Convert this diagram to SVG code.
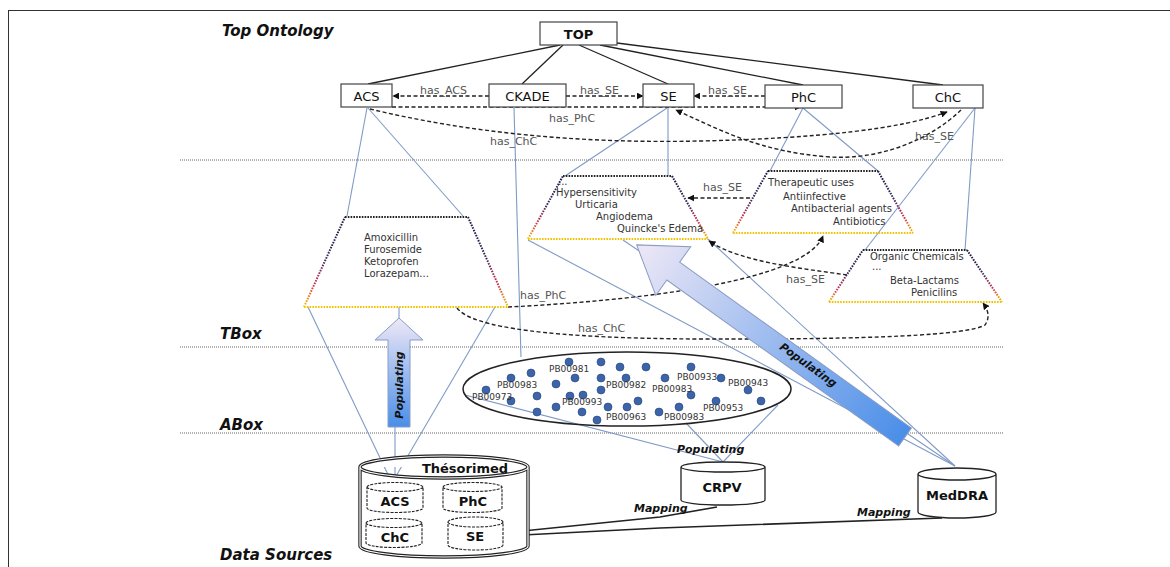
<svg xmlns="http://www.w3.org/2000/svg" width="1170" height="567" viewBox="0 0 1170 567">
<style>
.layer{font-family:"DejaVu Sans",sans-serif;font-weight:bold;font-style:italic;font-size:15px;fill:#111}
.node rect{fill:#fff;stroke:#444;stroke-width:1.2}
.ntxt{font-family:"DejaVu Sans",sans-serif;font-size:13px;fill:#111;text-anchor:middle}
.rel{font-family:"DejaVu Sans",sans-serif;font-size:11px;fill:#555}
.dash{fill:none;stroke:#222;stroke-width:1.4;stroke-dasharray:4 2.5}
.blue{stroke:#7f9bc6;stroke-width:1.1;fill:none}
.sep{stroke:#666;stroke-width:1;stroke-dasharray:1 1}
.ttop{fill:none;stroke:#222;stroke-width:2;stroke-dasharray:1.6 1.2}
.tbot{fill:none;stroke:#f2c400;stroke-width:2;stroke-dasharray:1.6 1.2}
.tside{fill:none;stroke:url(#sideGrad);stroke-width:2;stroke-dasharray:1.6 1.2}
.ttxt{font-family:"DejaVu Sans",sans-serif;font-size:10px;fill:#333}
.pb{font-family:"DejaVu Sans",sans-serif;font-size:9px;fill:#333}
.dot{fill:#3d64a8;stroke:#24457e;stroke-width:0.6}
.db{font-family:"DejaVu Sans",sans-serif;font-weight:bold;font-size:13px;fill:#111;text-anchor:middle}
.ital{font-family:"DejaVu Sans",sans-serif;font-weight:bold;font-style:italic;font-size:11px;fill:#111}
.cyl{fill:#fff;stroke:#222;stroke-width:1.3}
.icyl{fill:#fff;stroke:#222;stroke-width:1.1;stroke-dasharray:3 1.2}
.map{stroke:#222;stroke-width:1.6;fill:none}
</style>
<defs>
<linearGradient id="sideGrad" x1="0" y1="0" x2="0" y2="1">
<stop offset="0" stop-color="#1a1a40"/>
<stop offset="0.45" stop-color="#3a2a60"/>
<stop offset="0.75" stop-color="#d03050"/>
<stop offset="1" stop-color="#f5c400"/>
</linearGradient>
<linearGradient id="vGrad" x1="0" y1="0" x2="0" y2="1">
<stop offset="0" stop-color="#eee8f6"/>
<stop offset="1" stop-color="#4a8ee8"/>
</linearGradient>
<linearGradient id="dGrad" x1="0" y1="0" x2="1" y2="0">
<stop offset="0" stop-color="#4a8ee8"/>
<stop offset="1" stop-color="#eee8f6"/>
</linearGradient>
<marker id="arr" viewBox="0 0 10 10" refX="9" refY="5" markerWidth="7" markerHeight="7" orient="auto" markerUnits="userSpaceOnUse">
<path d="M0,0 L10,5 L0,10 Z" fill="#111"/>
</marker>
</defs>
<rect x="8.5" y="10.5" width="1200" height="600" fill="#fff" stroke="#333" stroke-width="1"/>

<g id="layers">
<text class="layer" x="222" y="36">Top Ontology</text>
<text class="layer" x="220" y="339">TBox</text>
<text class="layer" x="220" y="430">ABox</text>
<text class="layer" x="220" y="560">Data Sources</text>
<line class="sep" x1="180" y1="160" x2="1003" y2="160"/>
<line class="sep" x1="180" y1="347" x2="1003" y2="347"/>
<line class="sep" x1="180" y1="433" x2="1003" y2="433"/>
</g>

<g id="connectors">
<g stroke="#222" stroke-width="1.3">
<line x1="560" y1="45" x2="368" y2="84"/>
<line x1="563" y1="45" x2="522" y2="84"/>
<line x1="579" y1="45" x2="668" y2="84"/>
<line x1="600" y1="45" x2="803" y2="85"/>
<line x1="617" y1="43" x2="943" y2="85"/>
</g>
<g class="blue">
<line x1="367" y1="108" x2="347" y2="216"/>
<line x1="368" y1="108" x2="463" y2="216"/>
<line x1="514" y1="108" x2="521" y2="357"/>
<line x1="667" y1="108" x2="565" y2="176"/>
<line x1="668" y1="108" x2="668" y2="176"/>
<line x1="803" y1="108" x2="770" y2="171"/>
<line x1="803" y1="108" x2="878" y2="171"/>
<line x1="975" y1="108" x2="865" y2="250"/>
<line x1="975" y1="108" x2="965" y2="250"/>
<line x1="392" y1="483" x2="308" y2="307"/>
<line x1="392" y1="483" x2="495" y2="307"/>
<line x1="399" y1="307" x2="399" y2="320"/>
<line x1="395" y1="427" x2="395" y2="483"/>
<line x1="528" y1="240" x2="955" y2="466"/>
<line x1="623" y1="240" x2="955" y2="466"/>
<line x1="708" y1="239" x2="955" y2="466"/>
<line x1="723" y1="462" x2="686" y2="423"/>
<line x1="723" y1="462" x2="778" y2="405"/>
<line x1="465" y1="395" x2="723" y2="462"/>
</g>
<g class="dash">
<path d="M489,96 L393,96" marker-end="url(#arr)"/>
<path d="M566,96 L643,96" marker-end="url(#arr)"/>
<path d="M765,96 L694,96" marker-end="url(#arr)"/>
<path d="M392,107 L801,107" marker-end="url(#arr)"/>
<path d="M370,109 Q520,145 700,141 Q880,137 947,112" marker-end="url(#arr)"/>
<path d="M961,110 C930,140 880,160 830,157 C760,152 720,130 676,110" marker-end="url(#arr)"/>
<path d="M750,198 L688,198" marker-end="url(#arr)"/>
<path d="M508,307 C650,300 805,280 823,236" marker-end="url(#arr)"/>
<path d="M457,308 Q480,338 700,339 Q960,340 985,325 Q992,315 983,303" marker-end="url(#arr)"/>
<path d="M847,275 C800,268 740,262 709,241" marker-end="url(#arr)"/>
</g>
<path class="map" d="M503,533 L660,517 L717,507"/>
<path class="map" d="M503,536 L660,528 L942,518"/>
<text class="rel" x="420" y="94">has_ACS</text>
<text class="rel" x="580" y="94">has_SE</text>
<text class="rel" x="708" y="94">has_SE</text>
<text class="rel" x="549" y="122">has_PhC</text>
<text class="rel" x="490" y="145">has_ChC</text>
<text class="rel" x="915" y="140">has_SE</text>
<text class="rel" x="703" y="191">has_SE</text>
<text class="rel" x="520" y="299">has_PhC</text>
<text class="rel" x="578" y="332">has_ChC</text>
<text class="rel" x="786" y="283">has_SE</text>
<text class="ital" x="677" y="453">Populating</text>
<text class="ital" x="634" y="512">Mapping</text>
<text class="ital" x="857" y="516">Mapping</text>
</g>

<g id="node-TOP" class="node"><rect x="540" y="22" width="77" height="23"/><text class="ntxt" x="578.5" y="38.5" font-weight="bold">TOP</text></g>
<g id="node-ACS" class="node"><rect x="341" y="84" width="51" height="23"/><text class="ntxt" x="366.5" y="100.5">ACS</text></g>
<g id="node-CKADE" class="node"><rect x="489" y="84" width="77" height="23"/><text class="ntxt" x="527.5" y="100.5">CKADE</text></g>
<g id="node-SE" class="node"><rect x="643" y="84" width="51" height="23"/><text class="ntxt" x="668.5" y="100.5">SE</text></g>
<g id="node-PhC" class="node"><rect x="765" y="85" width="77" height="23"/><text class="ntxt" x="803.5" y="101.5">PhC</text></g>
<g id="node-ChC" class="node"><rect x="913" y="85" width="70" height="23"/><text class="ntxt" x="948" y="101.5">ChC</text></g>

<g id="tbox-drugs">
<line class="ttop" x1="345" y1="217" x2="468" y2="217"/>
<path class="tside" d="M304,307 L345,217 M468,217 L508,307"/>
<line class="tbot" x1="304" y1="307" x2="508" y2="307"/>
<text class="ttxt" x="364" y="241">Amoxicillin</text>
<text class="ttxt" x="364" y="253">Furosemide</text>
<text class="ttxt" x="364" y="265">Ketoprofen</text>
<text class="ttxt" x="364" y="277">Lorazepam...</text>
</g>
<g id="tbox-se">
<line class="ttop" x1="563" y1="176" x2="672" y2="176"/>
<path class="tside" d="M528,239 L563,176 M672,176 L708,239"/>
<line class="tbot" x1="528" y1="239" x2="708" y2="239"/>
<text class="ttxt" x="558" y="185">...</text>
<text class="ttxt" x="556" y="196">Hypersensitivity</text>
<text class="ttxt" x="575" y="208">Urticaria</text>
<text class="ttxt" x="596" y="220">Angiodema</text>
<text class="ttxt" x="617" y="232">Quincke's Edema</text>
</g>
<g id="tbox-phc">
<line class="ttop" x1="768" y1="171" x2="878" y2="171"/>
<path class="tside" d="M733,233 L768,171 M878,171 L913,233"/>
<line class="tbot" x1="733" y1="233" x2="913" y2="233"/>
<text class="ttxt" x="768" y="186" font-size="11">Therapeutic uses</text>
<text class="ttxt" x="783" y="200" font-size="11">Antiinfective</text>
<text class="ttxt" x="791" y="212" font-size="11">Antibacterial agents</text>
<text class="ttxt" x="833" y="225" font-size="11">Antibiotics</text>
</g>
<g id="tbox-chc">
<line class="ttop" x1="863" y1="250" x2="967" y2="250"/>
<path class="tside" d="M829,302 L863,250 M967,250 L1002,302"/>
<line class="tbot" x1="829" y1="302" x2="1002" y2="302"/>
<text class="ttxt" x="870" y="260">Organic Chemicals</text>
<text class="ttxt" x="872" y="270">...</text>
<text class="ttxt" x="890" y="284">Beta-Lactams</text>
<text class="ttxt" x="911" y="296">Penicilins</text>
</g>

<g id="arrow-populating-1">
<polygon points="399,318 423,340 410,340 410,427 388,427 388,340 375,340" fill="url(#vGrad)" stroke="#8a9cc4" stroke-width="1"/>
<text class="ital" transform="translate(403,385) rotate(-90)" text-anchor="middle" fill="#15224a">Populating</text>
</g>
<g id="arrow-populating-2">
<polygon transform="translate(905,437) rotate(215.6)" points="0,-11 285,-11 285,-30 330,0 285,30 285,11 0,11" fill="url(#dGrad)" stroke="#8a9cc4" stroke-width="1"/>
<text class="ital" transform="translate(806,368) rotate(35.6)" text-anchor="middle" fill="#15224a">Populating</text>
</g>

<g id="abox">
<ellipse cx="627" cy="389" rx="164" ry="37" fill="none" stroke="#222" stroke-width="1.5"/>
<g class="dot">
<circle cx="569" cy="362" r="4"/><circle cx="601" cy="362" r="4"/><circle cx="620" cy="367" r="4"/><circle cx="646" cy="367" r="4"/><circle cx="691" cy="367" r="4"/>
<circle cx="511" cy="378" r="4"/><circle cx="531" cy="373" r="4"/><circle cx="556" cy="384" r="4"/><circle cx="575" cy="378" r="4"/><circle cx="601" cy="378" r="4"/>
<circle cx="626" cy="378" r="4"/><circle cx="665" cy="378" r="4"/><circle cx="721" cy="378" r="4"/><circle cx="486" cy="390" r="4"/><circle cx="601" cy="390" r="4"/>
<circle cx="537" cy="396" r="4"/><circle cx="570" cy="396" r="4"/><circle cx="583" cy="395" r="4"/><circle cx="691" cy="395" r="4"/><circle cx="748" cy="390" r="4"/>
<circle cx="511" cy="401" r="4"/><circle cx="556" cy="407" r="4"/><circle cx="608" cy="407" r="4"/><circle cx="627" cy="407" r="4"/><circle cx="638" cy="401" r="4"/>
<circle cx="679" cy="407" r="4"/><circle cx="716" cy="401" r="4"/><circle cx="761" cy="401" r="4"/><circle cx="537" cy="412" r="4"/><circle cx="582" cy="412" r="4"/>
<circle cx="659" cy="412" r="4"/><circle cx="597" cy="420" r="4"/>
</g>
<text class="pb" x="549" y="372">PB00981</text>
<text class="pb" x="497" y="388">PB00983</text>
<text class="pb" x="472" y="400">PB00973</text>
<text class="pb" x="606" y="388">PB00982</text>
<text class="pb" x="652" y="392">PB00983</text>
<text class="pb" x="677" y="380">PB00933</text>
<text class="pb" x="728" y="386">PB00943</text>
<text class="pb" x="562" y="405">PB00993</text>
<text class="pb" x="606" y="420">PB00963</text>
<text class="pb" x="664" y="420">PB00983</text>
<text class="pb" x="703" y="411">PB00953</text>
</g>

<g id="db-thesorimed">
<path d="M360,467 A84,11 0 0 1 528,467 L528,546 A84,11 0 0 1 360,546 Z M360,467 A84,11 0 0 0 528,467" fill="#fff" stroke="#222" stroke-width="3.4"/>
<path d="M360,467 A84,11 0 0 1 528,467 L528,546 A84,11 0 0 1 360,546 Z M360,467 A84,11 0 0 0 528,467" fill="none" stroke="#fff" stroke-width="1.2"/>
<text class="db" x="465" y="473">Thésorimed</text>
</g>
<g id="db-ACS"><path class="icyl" d="M367,487 A28,4.5 0 0 1 423,487 L423,508 A28,4.5 0 0 1 367,508 Z M367,487 A28,4.5 0 0 0 423,487"/><text class="db" x="395" y="506">ACS</text></g>
<g id="db-PhC"><path class="icyl" d="M443,487 A29.5,4.5 0 0 1 502,487 L502,508 A29.5,4.5 0 0 1 443,508 Z M443,487 A29.5,4.5 0 0 0 502,487"/><text class="db" x="473" y="506">PhC</text></g>
<g id="db-ChC"><path class="icyl" d="M366,523 A28,4.5 0 0 1 422,523 L422,543 A28,4.5 0 0 1 366,543 Z M366,523 A28,4.5 0 0 0 422,523"/><text class="db" x="395" y="542">ChC</text></g>
<g id="db-SE"><path class="icyl" d="M448,522 A27.5,5 0 0 1 503,522 L503,545 A27.5,5 0 0 1 448,545 Z M448,522 A27.5,5 0 0 0 503,522"/><text class="db" x="475" y="541">SE</text></g>
<g id="db-CRPV"><path class="cyl" d="M681,467 A42,5 0 0 1 765,467 L765,500 A42,5 0 0 1 681,500 Z M681,467 A42,5 0 0 0 765,467"/><text class="db" x="722" y="492" font-size="14">CRPV</text></g>
<g id="db-MedDRA"><path class="cyl" d="M918,474 A39,6 0 0 1 996,474 L996,512 A39,6 0 0 1 918,512 Z M918,474 A39,6 0 0 0 996,474"/><text class="db" x="957" y="500">MedDRA</text></g>
</svg>
